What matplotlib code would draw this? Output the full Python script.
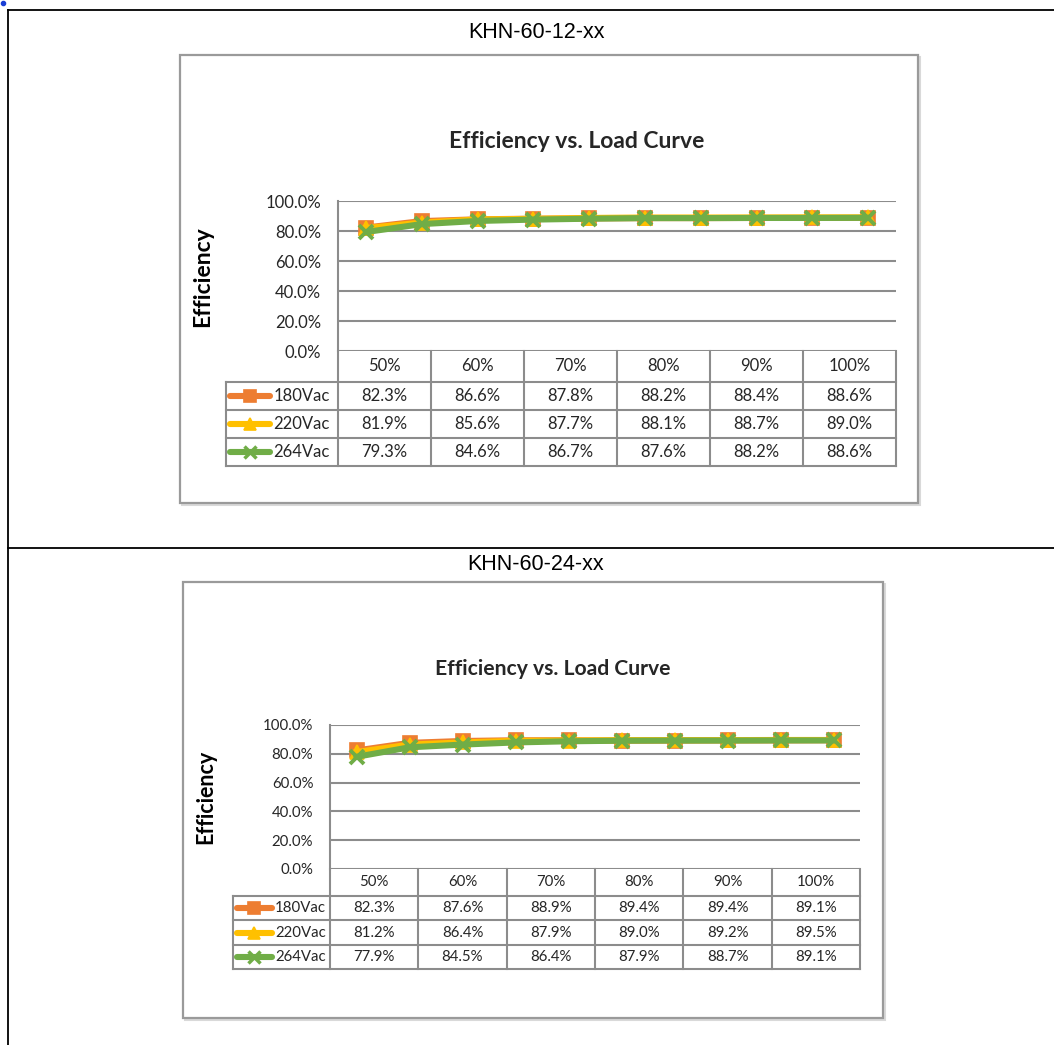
import matplotlib.pyplot as plt
from matplotlib.patches import Rectangle
from matplotlib.ticker import FuncFormatter

W, H = 1054, 1045

# ---- data ----
load_labels = ['50%', '60%', '70%', '80%', '90%', '100%']
series_names = ['180Vac', '220Vac', '264Vac']

# table values, KHN-60-12-xx
eff_12_180 = [82.3, 86.6, 87.8, 88.2, 88.4, 88.6]
eff_12_220 = [81.9, 85.6, 87.7, 88.1, 88.7, 89.0]
eff_12_264 = [79.3, 84.6, 86.7, 87.6, 88.2, 88.6]
# plotted curve points (10 markers on the chart)
curve_12_180 = [82.3, 86.6, 87.8, 88.2, 88.4, 88.6, 88.6, 88.7, 88.7, 88.7]
curve_12_220 = [81.9, 85.6, 87.7, 88.1, 88.7, 89.0, 89.0, 89.0, 89.1, 89.1]
curve_12_264 = [79.3, 84.6, 86.7, 87.6, 88.2, 88.6, 88.6, 88.7, 88.7, 88.8]

# table values, KHN-60-24-xx
eff_24_180 = [82.3, 87.6, 88.9, 89.4, 89.4, 89.1]
eff_24_220 = [81.2, 86.4, 87.9, 89.0, 89.2, 89.5]
eff_24_264 = [77.9, 84.5, 86.4, 87.9, 88.7, 89.1]
curve_24_180 = [82.3, 87.6, 88.9, 89.4, 89.4, 89.1, 89.2, 89.3, 89.3, 89.4]
curve_24_220 = [81.2, 86.4, 87.9, 89.0, 89.2, 89.5, 89.5, 89.5, 89.6, 89.6]
curve_24_264 = [77.9, 84.5, 86.4, 87.9, 88.7, 89.1, 89.2, 89.2, 89.3, 89.3]

y_ticks = [0, 20, 40, 60, 80, 100]

colors = ['#ED7D31', '#FFC000', '#70AD47']
markers = ['s', '^', 'x']

CAL = ['Lato', 'DejaVu Sans']
ARIAL = ['Liberation Sans', 'DejaVu Sans']

fig = plt.figure(figsize=(W / 100, H / 100), dpi=100)
bg = fig.add_axes([0, 0, 1, 1])
bg.set_xlim(0, W)
bg.set_ylim(H, 0)
bg.axis('off')

# outer document table lines
bg.plot([8, W], [10, 10], color='black', lw=1.3)
bg.plot([8, W], [548, 548], color='black', lw=1.3)
bg.plot([8, 8], [10, H], color='black', lw=1.3)
bg.plot([3], [3], marker='o', color='#1a3fd6', ms=3)


def draw_panel(name, name_y, frame, title_xy, ylab_xy, plot_box, leg_x0, row_h,
               curves, table_vals, fs):
    bg.text(W / 2 + 9, name_y, name, family=ARIAL, fontsize=15.5,
            ha='center', va='center')
    fx0, fy0, fx1, fy1 = frame
    bg.add_patch(Rectangle((fx0 + 2, fy0 + 2), fx1 - fx0, fy1 - fy0,
                           facecolor='none', edgecolor='#d9d9d9', lw=1.5))
    bg.add_patch(Rectangle((fx0, fy0), fx1 - fx0, fy1 - fy0,
                           facecolor='white', edgecolor='#9a9a9a', lw=1.6))
    bg.text(title_xy[0], title_xy[1], 'Efficiency vs. Load Curve', family=CAL,
            fontsize=fs['title'], fontweight='bold', ha='center', va='center',
            color='#262626')
    bg.text(ylab_xy[0], ylab_xy[1], 'Efficiency', family=CAL,
            fontsize=fs['ylab'], fontweight='bold', ha='center', va='center',
            rotation=90, color='black')

    px0, py_top, px1, py0 = plot_box
    ax = fig.add_axes([px0 / W, 1 - py0 / H, (px1 - px0) / W, (py0 - py_top) / H])
    n = len(curves[0])
    for vals, c, m in zip(curves, colors, markers):
        ax.plot(range(n), vals, color=c, lw=4.4, marker=m,
                ms=10 if m == 's' else 9.5, mfc=c, mec=c,
                mew=1.2 if m != 'x' else 2.8, clip_on=False, zorder=3)
    ax.set_xlim(-0.5, n - 0.5)
    ax.set_ylim(0, 100)
    ax.set_yticks(y_ticks)
    ax.yaxis.set_major_formatter(FuncFormatter(lambda v, p: f'{v:.1f}%'))
    ax.set_xticks([])
    ax.tick_params(axis='y', length=0, pad=12, labelsize=fs['tick'])
    for lab in ax.get_yticklabels():
        lab.set_family(CAL)
        lab.set_color('#262626')
    ax.grid(axis='y', color='#8c8c8c', lw=1.5)
    ax.set_axisbelow(True)
    for s in ['top', 'right', 'bottom']:
        ax.spines[s].set_visible(False)
    ax.spines['left'].set_color('#8c8c8c')
    ax.spines['left'].set_linewidth(1.5)
    ax.patch.set_alpha(0)

    # data table under plot
    ncol = len(load_labels)
    cw = (px1 - px0) / ncol
    hdr_h = row_h * 1.1
    y_rows = [py0 + hdr_h + i * row_h for i in range(len(series_names) + 1)]
    ybot = y_rows[-1]
    lc = '#8c8c8c'
    for i in range(ncol + 1):
        bg.plot([px0 + i * cw] * 2, [py0, ybot], color=lc, lw=1.5)
    for yy in y_rows:
        bg.plot([leg_x0, px1], [yy, yy], color=lc, lw=1.5)
    bg.plot([leg_x0, leg_x0], [y_rows[0], ybot], color=lc, lw=1.5)
    for i, lab in enumerate(load_labels):
        bg.text(px0 + (i + 0.5) * cw, py0 + hdr_h / 2, lab, family=CAL,
                fontsize=fs['cell'], ha='center', va='center', color='#262626')
    for r, (sname, vals) in enumerate(zip(series_names, table_vals)):
        yc = y_rows[r] + row_h / 2
        kx0 = leg_x0 + 4
        kx1 = kx0 + (px0 - leg_x0) * 0.36
        bg.plot([kx0, kx1], [yc, yc], color=colors[r], lw=4.4,
                solid_capstyle='round')
        bg.plot([(kx0 + kx1) / 2], [yc], marker=markers[r], color=colors[r],
                ms=9 if r == 0 else 8.5, mec=colors[r],
                mew=1.2 if r < 2 else 2.5)
        bg.text(kx1 + 3, yc, sname, family=CAL, fontsize=fs['cell'],
                ha='left', va='center', color='#262626')
        for i, v in enumerate(vals):
            bg.text(px0 + (i + 0.5) * cw, yc, f'{v:.1f}%', family=CAL,
                    fontsize=fs['cell'], ha='center', va='center',
                    color='#262626')


draw_panel('KHN-60-12-xx', 32, (180, 55, 918, 503), (577, 141), (203, 277),
           (338, 201, 896, 351), 226, 28,
           [curve_12_180, curve_12_220, curve_12_264],
           [eff_12_180, eff_12_220, eff_12_264],
           {'title': 16.5, 'ylab': 16.5, 'tick': 12, 'cell': 12})

draw_panel('KHN-60-24-xx', 564, (183, 582, 883, 1018), (553, 669), (206, 797),
           (330, 725, 860, 869), 233, 24.5,
           [curve_24_180, curve_24_220, curve_24_264],
           [eff_24_180, eff_24_220, eff_24_264],
           {'title': 15.2, 'ylab': 15.5, 'tick': 10.8, 'cell': 10.8})

fig.savefig('out.png', dpi=100)
